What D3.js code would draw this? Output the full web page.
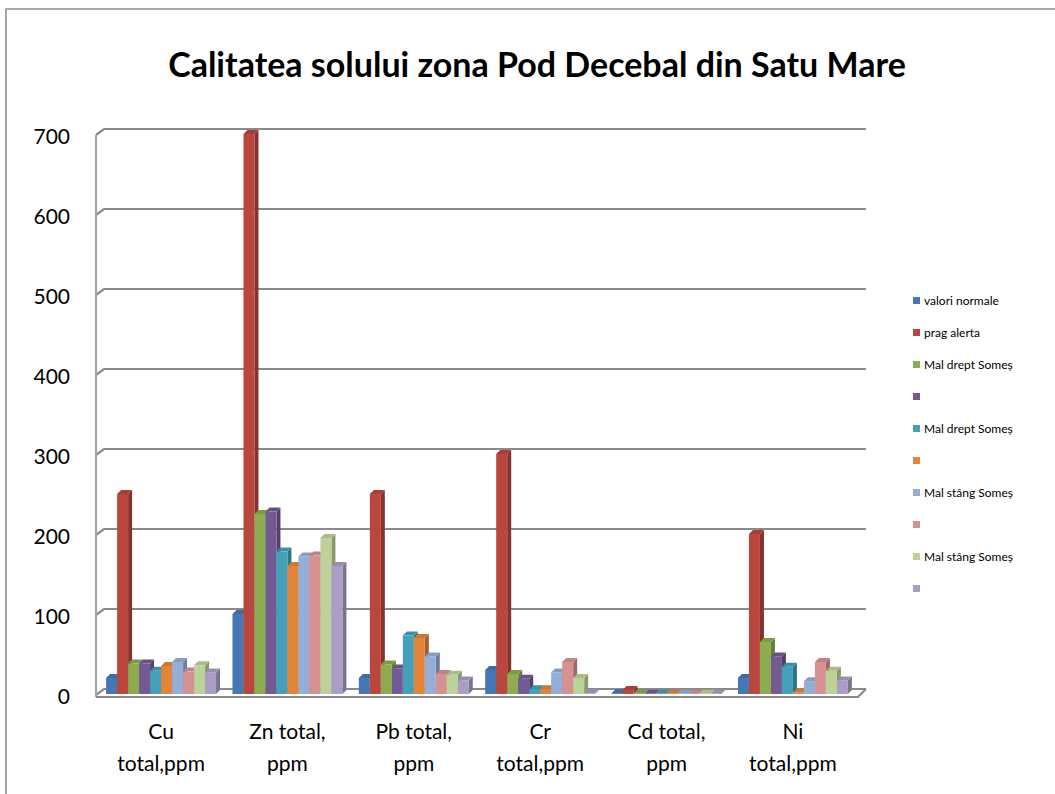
<!DOCTYPE html>
<html>
<head>
  <meta charset="UTF-8">
  <title>Calitatea solului</title>
  <style>
    body { margin: 0; background: #fff; }
    svg { display: block; font-family: Lato, "Open Sans", sans-serif; }
  </style>
</head>
<body>
  <div class="svg-zone"></div>
  <script src="https://cdn.jsdelivr.net/npm/d3@7"></script>
  <script type="text/javascript">
  // categorii (doua randuri pe eticheta)
  var categories = ["Cu total,ppm", "Zn total, ppm", "Pb total, ppm", "Cr total,ppm", "Cd total, ppm", "Ni total,ppm"];
  var catLines = [["Cu", "total,ppm"], ["Zn total,", "ppm"], ["Pb total,", "ppm"], ["Cr", "total,ppm"], ["Cd total,", "ppm"], ["Ni", "total,ppm"]];

  var seriesNames = ["valori normale", "prag alerta", "Mal drept Someș", "", "Mal drept Someș", "", "Mal stâng Someș", "", "Mal stâng Someș", ""];

  // valori pe serii, in ordinea categoriilor
  var valoriNormale = [20, 100, 20, 30, 1, 20];
  var pragAlerta    = [250, 700, 250, 300, 5, 200];
  var malDrept1     = [38, 225, 37, 25, 0.4, 65];
  var malDrept2     = [38, 228, 32, 19, 0.3, 47];
  var malDrept3     = [29, 178, 73, 6, 0.3, 34];
  var malDrept4     = [35, 160, 70, 6, 0.3, 2];
  var malStang1     = [40, 172, 47, 27, 0.3, 16];
  var malStang2     = [28, 173, 25, 40, 0.3, 40];
  var malStang3     = [36, 195, 24, 20, 0.3, 29];
  var malStang4     = [27, 160, 17, 1, 0.3, 17];
  var seriesValues = [valoriNormale, pragAlerta, malDrept1, malDrept2, malDrept3, malDrept4, malStang1, malStang2, malStang3, malStang4];

  var colors = ["#4677B4", "#B9463F", "#8DAB4F", "#745A93", "#43A0B8", "#E2853B", "#95AED6", "#D69290", "#BDD298", "#AB9EC4"];
  var yTicks = [0, 100, 200, 300, 400, 500, 600, 700];

  render();

  function render() {
    var width = 1055, height = 794;
    var dx = 8, dy = 6;      // adancimea peretelui
    var bdx = 4, bdy = 4;    // adancimea coloanelor

    var svg = d3.select(".svg-zone").append("svg")
      .attr("width", width)
      .attr("height", height);

    // chenar
    svg.append("rect")
      .attr("x", 6).attr("y", 9)
      .attr("width", width + 10).attr("height", height + 10)
      .attr("fill", "none").attr("stroke", "#8c8c8c").attr("stroke-width", 1.5);

    svg.append("text")
      .attr("x", 537).attr("y", 77)
      .attr("text-anchor", "middle")
      .attr("font-size", 34).attr("font-weight", "bold")
      .text("Calitatea solului zona Pod Decebal din Satu Mare");

    var x0 = 96, x1 = 858;
    var yBack = d3.scaleLinear().domain([0, 700]).range([689, 129]);
    var yBar = d3.scaleLinear().domain([0, 700]).range([694, 134]);

    var x = d3.scaleBand().domain(categories).range([x0, x1])
      .paddingInner(0.13).paddingOuter(0.08);
    var xs = d3.scaleBand().domain(d3.range(seriesValues.length)).range([0, x.bandwidth()]);

    // perete + linii de grila
    var grid = svg.append("g").attr("stroke", "#8a8a8a").attr("fill", "none");
    grid.selectAll("path.grid").data(yTicks).enter().append("path")
      .attr("class", "grid")
      .attr("stroke-width", 2.2)
      .attr("d", function (d) {
        var yy = yBack(d);
        return "M" + x0 + "," + (yy + dy) + "L" + (x0 + dx) + "," + yy + "L" + (x1 + dx) + "," + yy;
      });
    grid.append("line")
      .attr("x1", x0).attr("x2", x0)
      .attr("y1", yBack(700) + dy).attr("y2", yBack(0) + dy + 2)
      .attr("stroke", "#a6a6a6").attr("stroke-width", 2.2);
    // podea
    grid.append("path")
      .attr("stroke-width", 2.2)
      .attr("d", "M" + x0 + "," + (yBack(0) + dy + 2) + "L" + x1 + "," + (yBack(0) + dy + 2) +
        "L" + (x1 + dx) + "," + yBack(0));

    // etichete axa y
    svg.append("g").selectAll("text").data(yTicks).enter().append("text")
      .attr("x", 70).attr("y", function (d) { return yBack(d) + 15; })
      .attr("text-anchor", "end")
      .attr("font-size", 21)
      .text(function (d) { return d; });

    // coloane 3d
    var bars = [];
    seriesValues.forEach(function (vals, s) {
      vals.forEach(function (v, c) {
        bars.push({ s: s, c: c, v: v });
      });
    });
    var bw = xs.bandwidth();
    var base = yBar(0);
    var g = svg.append("g").selectAll("g.bar").data(bars).enter().append("g").attr("class", "bar");
    g.append("path") // latura
      .attr("fill", function (d) { return d3.color(colors[d.s]).darker(0.9); })
      .attr("d", function (d) {
        var xx = x(categories[d.c]) + xs(d.s) + bw, t = yBar(d.v);
        return "M" + xx + "," + t + "l" + bdx + "," + (-bdy) + "L" + (xx + bdx) + "," + (base - bdy) + "L" + xx + "," + base + "Z";
      });
    g.append("path") // capac
      .attr("fill", function (d) { return d3.color(colors[d.s]).darker(0.3); })
      .attr("d", function (d) {
        var xx = x(categories[d.c]) + xs(d.s), t = yBar(d.v);
        return "M" + xx + "," + t + "l" + bdx + "," + (-bdy) + "h" + bw + "l" + (-bdx) + "," + bdy + "Z";
      });
    g.append("rect") // fata
      .attr("x", function (d) { return x(categories[d.c]) + xs(d.s); })
      .attr("y", function (d) { return yBar(d.v); })
      .attr("width", bw)
      .attr("height", function (d) { return base - yBar(d.v); })
      .attr("fill", function (d) { return colors[d.s]; });

    // etichete categorii
    var lab = svg.append("g").selectAll("text").data(categories).enter().append("text")
      .attr("text-anchor", "middle")
      .attr("font-size", 21)
      .attr("x", function (d) { return x(d) + x.bandwidth() / 2; })
      .attr("y", 739);
    lab.selectAll("tspan").data(function (d, i) { return catLines[i]; }).enter().append("tspan")
      .attr("x", function () { var p = d3.select(this.parentNode).datum(); return x(p) + x.bandwidth() / 2; })
      .attr("dy", function (d, i) { return i === 0 ? 0 : 32; })
      .text(function (d) { return d; });

    // legenda
    var leg = svg.append("g").selectAll("g").data(seriesNames).enter().append("g")
      .attr("transform", function (d, i) { return "translate(913," + (301 + i * 32) + ")"; });
    leg.append("rect")
      .attr("x", 0).attr("y", -4).attr("width", 7).attr("height", 7)
      .attr("fill", function (d, i) { return colors[i]; });
    leg.append("text")
      .attr("x", 11).attr("y", 4)
      .attr("font-size", 12)
      .text(function (d) { return d; });
  }
  </script>
</body>
</html>
